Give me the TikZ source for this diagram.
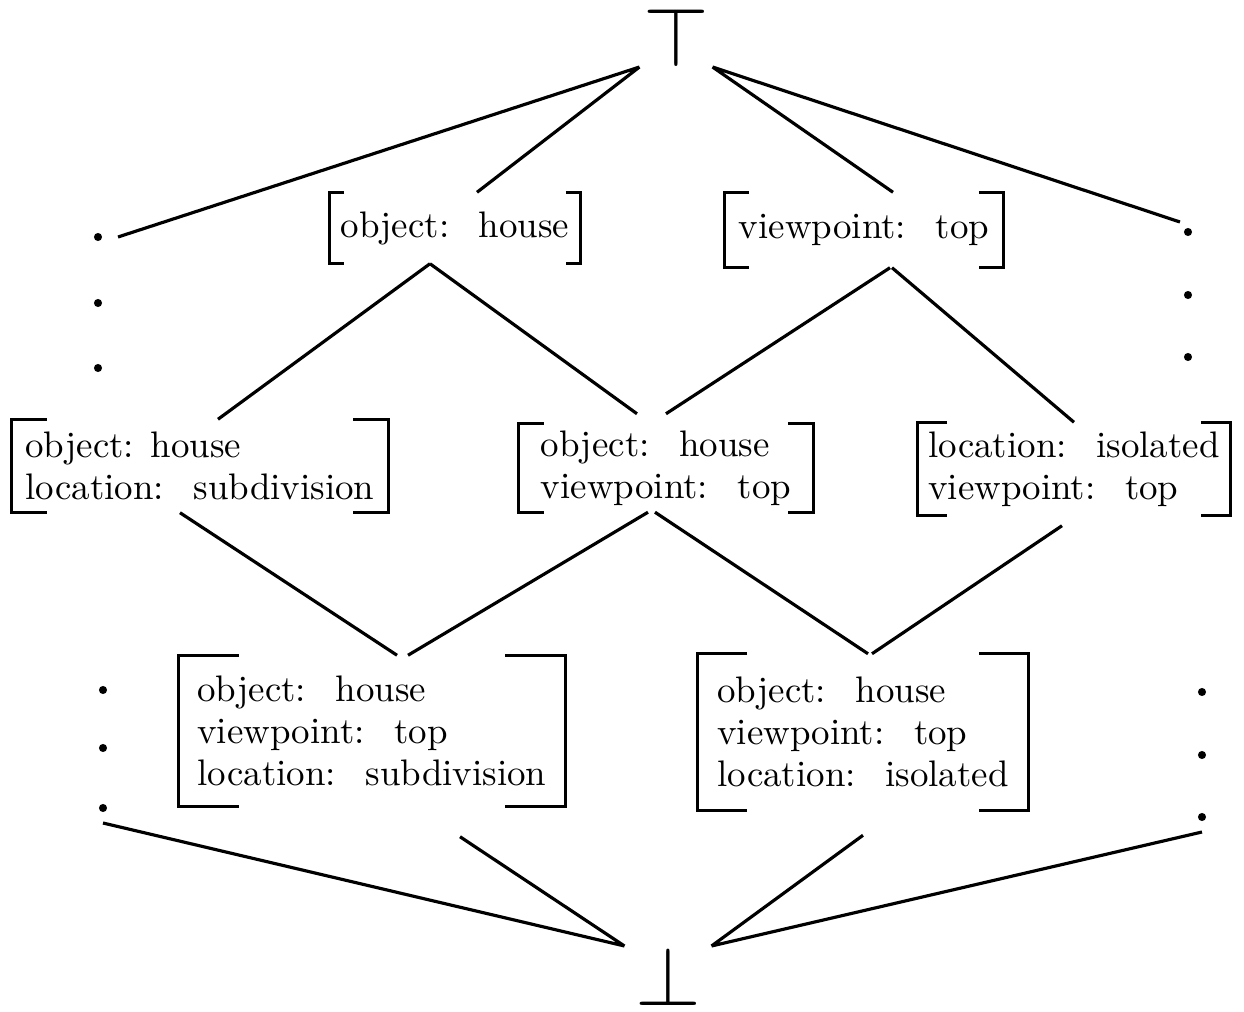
\documentclass[tikz,border=0pt]{standalone}
\usepackage{fontspec}
\usepackage{graphicx}
\usepackage{tikz}

\newcommand{\sep}{\hspace{.8em}}
% brackets round a node: name, tick length
\newcommand{\brk}[2]{%
  \draw[line width=.9pt] (#1.north west) ++(#2,0) -| (#1.south west) -- ++(#2,0)
               (#1.north east) ++(-#2,0) -| (#1.south east) -- ++(-#2,0);}

\tikzset{
  fs/.style={font=\fontsize{10.5}{12}\selectfont, align=left, inner sep=0pt},
  dot/.style={circle, fill, inner sep=0pt, minimum size=2.3pt},
  edge/.style={line width=.9pt}
}

\begin{document}
\begin{tikzpicture}[x=0.01cm,y=-0.01cm]
    \useasboundingbox (0,0) rectangle (1244,1012);

    % top and bottom
    \node (top) at (676,37) [inner xsep=.03cm, inner ysep=0pt] {\scalebox{2.4}{$\top$}};
    \node (bot) at (668,976) [inner xsep=.1cm, inner ysep=0pt] {\scalebox{2.4}{$\bot$}};

    % one feature
    \node (h) at (455,228) [fs, minimum width=2.5cm, minimum height=.7cm] {object:\sep house};
    \node (v) at (864,230) [fs, minimum width=2.78cm, minimum height=.74cm] {viewpoint:\sep top};
    \brk{h}{15} \brk{v}{25}

    % two features
    \node (hs) at (200,466) [fs, minimum width=3.75cm, minimum height=.92cm]
          {object: house\\location:\sep subdivision};
    \node (hv) at (666,468) [fs, minimum width=2.93cm, minimum height=.87cm]
          {object:\sep house\\viewpoint:\sep top};
    \node (iv) at (1074,469) [fs, minimum width=3.12cm, minimum height=.92cm]
          {location:\sep isolated\\viewpoint:\sep top};
    \brk{hs}{35} \brk{hv}{25} \brk{iv}{30}

    % three features
    \node (hvs) at (372,731) [fs, minimum width=3.85cm, minimum height=1.5cm]
          {object:\sep house\\viewpoint:\sep top\\location:\sep subdivision};
    \node (hvi) at (863,732) [fs, minimum width=3.3cm, minimum height=1.55cm]
          {object:\sep house\\viewpoint:\sep top\\location:\sep isolated};
    \brk{hvs}{60} \brk{hvi}{50}

    % dots
    \foreach \j/\y in {1/237,2/303,3/368}
             { \node (u\j) at (98,\y) [dot] {};}
    \foreach \j/\y in {1/232,2/295,3/357}
             { \node (r\j) at (1188,\y) [dot] {};}
    \foreach \j/\y in {1/690,2/748,3/808}
             { \node (l\j) at (103,\y) [dot] {};}
    \foreach \j/\y in {1/692,2/755,3/817}
             { \node (s\j) at (1202,\y) [dot] {};}

    \draw[edge] (top.south west) to ([xshift=.2cm]u1.center)
                (top.south west) to ([xshift=.22cm]h.north)
                (top.south east) to ([xshift=.29cm]v.north)
                (top.south east) to ([xshift=-.08cm,yshift=.1cm]r1.center);
    \draw[edge] ([xshift=-.25cm]h.south) to ([xshift=.18cm]hs.north)
                ([xshift=-.25cm]h.south) to ([xshift=-.29cm,yshift=.1cm]hv.north)
                ([xshift=.26cm]v.south) to ([yshift=.1cm]hv.north)
                ([xshift=.28cm]v.south) to (iv.north);
    \draw[edge] ([xshift=-.2cm]hs.south) to ([xshift=.25cm]hvs.north)
                ([xshift=-.18cm]hv.south) to ([xshift=.36cm]hvs.north)
                ([xshift=-.11cm]hv.south) to ([xshift=.05cm]hvi.north)
                ([xshift=-.12cm,yshift=-.1cm]iv.south) to ([xshift=.09cm]hvi.north);
    \draw[edge] ([yshift=-.15cm]l3.center) to (bot.north west)
                ([xshift=.88cm,yshift=-.3cm]hvs.south) to (bot.north west)
                ([yshift=-.25cm]hvi.south) to (bot.north east)
                ([yshift=-.15cm]s3.center) to (bot.north east);

\end{tikzpicture}
\end{document}
